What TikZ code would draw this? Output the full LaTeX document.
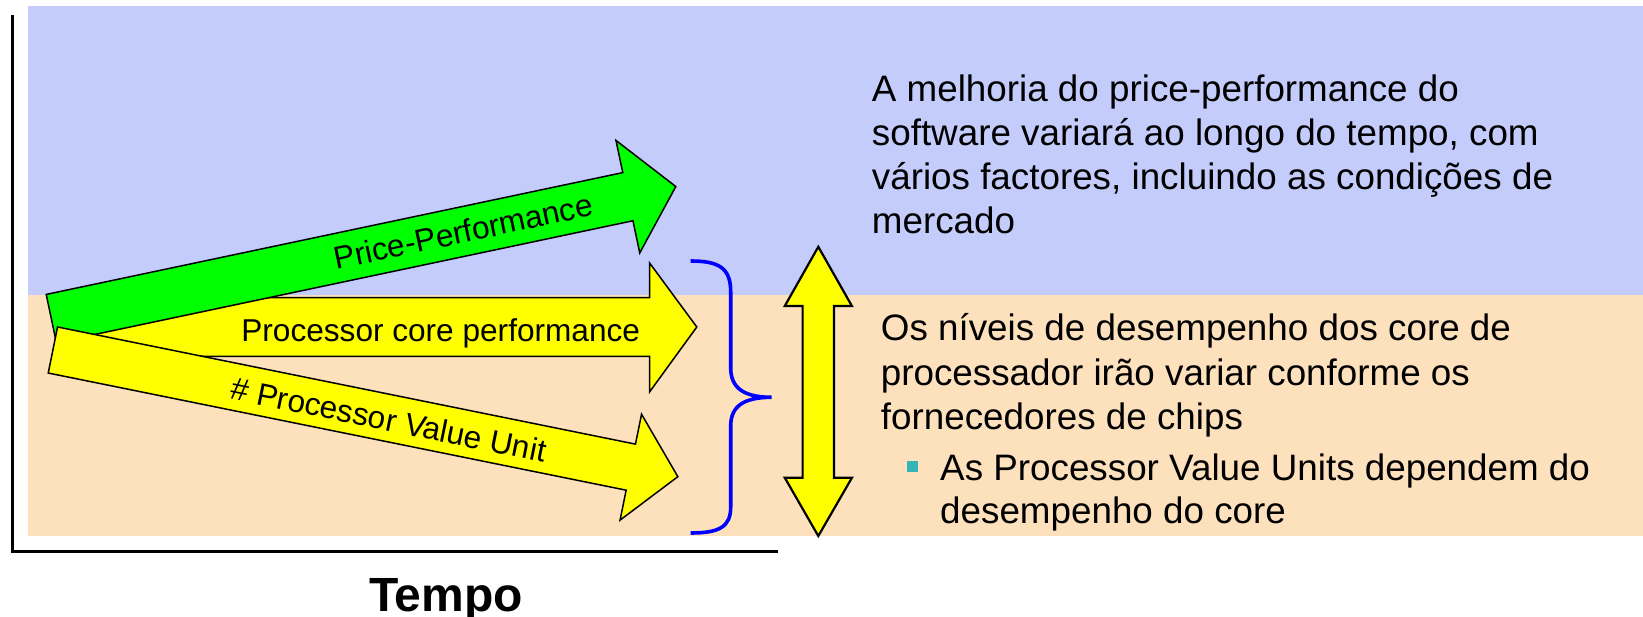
\documentclass[tikz,border=0pt]{standalone}
\usepackage{fontspec}
\setmainfont{Liberation Sans}
\definecolor{skyband}{RGB}{196,204,252}
\definecolor{sandband}{RGB}{253,225,189}
\definecolor{bulletteal}{RGB}{51,181,181}
\definecolor{arrowgreen}{RGB}{0,255,0}
\definecolor{arrowyellow}{RGB}{255,255,0}
\begin{document}
\begin{tikzpicture}[x=1pt,y=-1pt,
  arrowbody/.style={draw=black, line width=1.5pt, line join=miter},
  armlabel/.style={font=\fontsize{31.6}{37}\selectfont, inner sep=0pt},
  bodytext/.style={font=\fontsize{36.8}{44}\selectfont, anchor=base west, inner sep=0pt},
  axisline/.style={draw=black, line width=3.3pt}]
\useasboundingbox (0,0) rectangle (1643,617);

% coloured bands
\fill[skyband] (28,6) rectangle (1643,295);
\fill[sandband] (28,295) rectangle (1643,536);

% axes
\draw[axisline] (12.5,15) -- (12.5,551.5) -- (778,551.5);

% horizontal arrow: processor core performance
\draw[arrowbody, fill=arrowyellow]
  (70,297.6) -- (649.6,297.6) -- (649.6,263) -- (696.8,327)
  -- (649.6,391.9) -- (649.6,356.3) -- (70,356.3) -- cycle;
\node[armlabel, anchor=base] (core) at (440.7,341.5) {Processor core performance};

% rising arrow: price-performance
\begin{scope}[shift={(51.3,318.5)}, rotate=11.93]
  \draw[arrowbody, fill=arrowgreen]
    (0,-24.6) -- (589.3,-24.6) -- (589.3,-57.5) -- (638.3,0)
    -- (589.3,57.5) -- (589.3,24.6) -- (0,24.6) -- cycle;
  \node[armlabel, rotate=11.93] (price) at (421,0) {Price-Performance};
\end{scope}

% falling arrow: processor value units
\begin{scope}[shift={(52.9,350)}, rotate=-11.46]
  \draw[arrowbody, fill=arrowyellow]
    (0,-23.5) -- (589.7,-23.5) -- (589.7,-54) -- (637.7,0)
    -- (589.7,54) -- (589.7,23.5) -- (0,23.5) -- cycle;
  \node[armlabel, rotate=-11.46] (pvu) at (343,1.5) {\# Processor Value Unit};
\end{scope}

% brace grouping the two lower arrows
\draw[blue, line width=3.6pt]
  (690.7,261) .. controls (719,261) and (730.7,268) .. (730.7,292)
  -- (730.7,368) .. controls (730.7,388) and (744,397.3) .. (771.7,397.3)
  .. controls (744,397.3) and (730.7,406) .. (730.7,426)
  -- (730.7,507) .. controls (730.7,527) and (719,533) .. (690.7,533);

% double-headed vertical arrow
\draw[arrowbody, line width=2.2pt, fill=arrowyellow]
  (818.3,246.8) -- (851.9,306) -- (834,306) -- (834,477.8) -- (851.9,477.8)
  -- (818.3,536) -- (784.8,477.8) -- (802.6,477.8) -- (802.6,306)
  -- (784.8,306) -- cycle;

% explanatory text, upper band
\node[bodytext] (m1) at (871.7,101.5) {A melhoria do price-performance do};
\node[bodytext] (m2) at (871.7,145.5) {software variará ao longo do tempo, com};
\node[bodytext] (m3) at (871.7,189.5) {vários factores, incluindo as condições de};
\node[bodytext] (m4) at (871.7,234)   {mercado};

% explanatory text, lower band
\node[bodytext] (c1) at (880.7,341)   {Os níveis de desempenho dos core de};
\node[bodytext] (c2) at (880.7,385)   {processador irão variar conforme os};
\node[bodytext] (c3) at (880.7,429.5) {fornecedores de chips};
\node[fill=bulletteal, minimum size=11.5pt, inner sep=0pt] (bullet) at (912.5,466.5) {};
\node[bodytext] (b1) at (940,480)   {As Processor Value Units dependem do};
\node[bodytext] (b2) at (940,523.5) {desempenho do core};

% axis caption
\node[font=\bfseries\fontsize{48}{56}\selectfont, anchor=base, inner sep=0pt] (tempo) at (446,611) {Tempo};
\end{tikzpicture}
\end{document}
